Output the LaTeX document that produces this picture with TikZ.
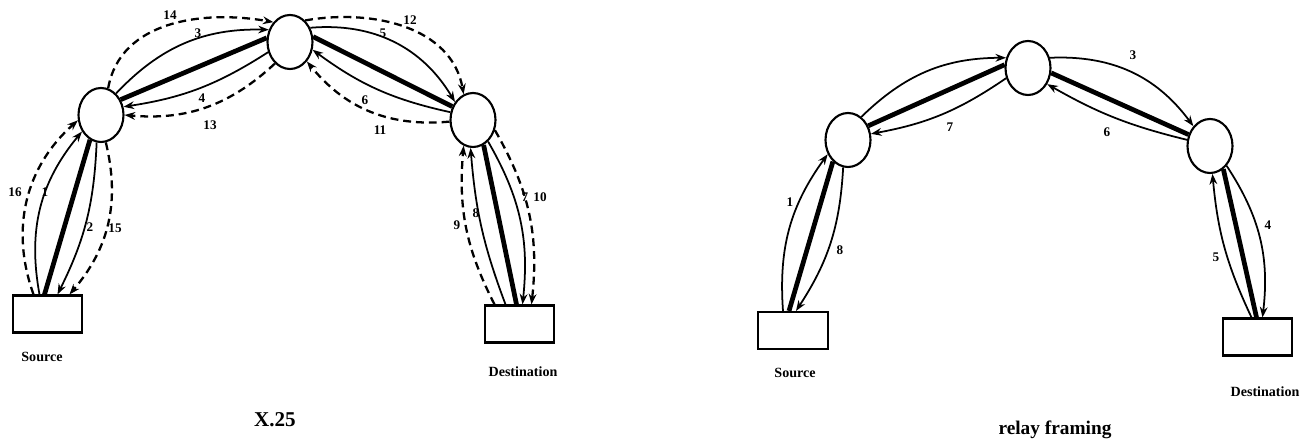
\documentclass[tikz,border=0pt]{standalone}
\usepackage{fontspec}
\setmainfont{Liberation Serif}
\usetikzlibrary{shapes.geometric,arrows.meta,calc}
\begin{document}
\begin{tikzpicture}[x=0.2mm,y=0.2mm,
  router/.style={ellipse,draw,line width=1.2pt,minimum width=9mm,minimum height=10.8mm,inner sep=0pt},
  host/.style={rectangle,draw,line width=1.2pt,minimum width=13.9mm,minimum height=7.4mm,inner sep=0pt},
  msg/.style={line width=1pt,-{Stealth[length=6pt,width=4.4pt]}},
  ctl/.style={msg,line width=1.3pt,dash pattern=on 4.5pt off 2.8pt},
  vc/.style={line width=2.7pt},
  num/.style={font=\bfseries\fontsize{7.5}{8}\selectfont,inner sep=0pt},
  captxt/.style={font=\bfseries\fontsize{8}{9}\selectfont,inner sep=0pt},
  titletxt/.style={font=\bfseries\fontsize{11}{13}\selectfont,inner sep=0pt}]
\useasboundingbox (0,0) rectangle (1312,448);

% ---------- X.25 ----------
\node[router] (A) at (101,333) {};
\node[router] (B) at (290,406) {};
\node[router] (C) at (473,328) {};
\node[host] (S1) at (47.5,134) {};
\node[host] (D1) at (519.5,124) {};
\node[captxt] (s1l) at (42,91) {Source};
\node[captxt] (d1l) at (523,76) {Destination};
\node[titletxt,font=\bfseries\fontsize{12}{14}\selectfont] (t1) at (275,28) {X.25};

\draw[ctl] ($(S1.north)+(-14,0)$) to[bend left=34] (A.193);
\draw[msg] ($(S1.north)+(-8,0)$) to[bend left=25] (A.221);
\draw[vc] (A.246) -- ($(S1.north)+(-3,0)$);
\draw[msg] (A.261) to[bend left=12] ($(S1.north)+(10,0)$);
\draw[ctl] (A.280) to[bend left=27] ($(S1.north)+(22,0)$);

\draw[ctl] (A.75) to[out=80,in=170] (B.130);
\draw[msg] (A.55) to[bend left=24] (B.150);
\draw[vc] (A.38) -- (B.170);
\draw[msg] (B.205) to[bend left=12] (A.20);
\draw[ctl] (B.235) to[bend left=24] (A.0);

\draw[ctl] (B.55) to[out=10,in=100] (C.110);
\draw[msg] (B.35) to[bend left=32] (C.135);
\draw[vc] (B.13) -- (C.147);
\draw[msg] (C.161) to[bend left=12] (B.341);
\draw[ctl] (C.184) to[bend left=28] (B.311);

\draw[ctl] ($(D1.north)+(-25,0)$) to[bend left=16] (C.250);
\draw[msg] ($(D1.north)+(-14,0)$) to[bend left=8] (C.265);
\draw[vc] (C.293) -- ($(D1.north)+(-3,0)$);
\draw[msg] (C.305) to[bend left=18] ($(D1.north)+(3,0)$);
\draw[ctl] (C.335) to[bend left=18] ($(D1.north)+(12,0)$);

\node[num] (l14) at (170,433) {14};
\node[num] (l3) at (198,415) {3};
\node[num] (l4) at (202,350) {4};
\node[num] (l13) at (210,323) {13};
\node[num] (l16) at (15,256) {16};
\node[num] (l1) at (45,256) {1};
\node[num] (l2) at (90,221) {2};
\node[num] (l15) at (115,220) {15};
\node[num] (l5) at (383,415) {5};
\node[num] (l12) at (410,428) {12};
\node[num] (l6) at (365,348) {6};
\node[num] (l11) at (380,318) {11};
\node[num] (l7) at (525,251) {7};
\node[num] (l10) at (540,251) {10};
\node[num] (l9) at (457,223) {9};
\node[num] (l8) at (476,235) {8};

% ---------- relay framing ----------
\node[router] (D) at (848,308) {};
\node[router] (E) at (1028,380) {};
\node[router] (F) at (1210,302) {};
\node[host] (S2) at (793,117.5) {};
\node[host] (D2) at (1257.5,111) {};
\node[captxt] (s2l) at (795,75) {Source};
\node[captxt] (d2l) at (1265,56) {Destination};
\node[titletxt] (t2) at (1055,18) {relay framing};

\draw[msg] ($(S2.north)+(-10,0)$) to[bend left=20] (D.215);
\draw[vc] (D.235) -- ($(S2.north)+(-4,0)$);
\draw[msg] (D.260) to[bend left=15] ($(S2.north)+(3,0)$);
\draw[msg] (D.60) to[bend left=22] (E.155);
\draw[vc] (D.35) -- (E.172);
\draw[msg] (E.205) to[bend left=12] (D.15);
\draw[msg] (E.25) to[bend left=28] (F.130);
\draw[vc] (E.348) -- (F.152);
\draw[msg] (F.165) to[bend left=8] (E.320);
\draw[msg] ($(D2.north)+(-6,0)$) to[bend left=10] (F.275);
\draw[vc] (F.300) -- ($(D2.north)+(-1,0)$);
\draw[msg] (F.310) to[bend left=20] ($(D2.north)+(5,0)$);

\node[num] (r1) at (790,246) {1};
\node[num] (r8) at (840,198) {8};
\node[num] (r7) at (950,321) {7};
\node[num] (r3) at (1133,393) {3};
\node[num] (r6) at (1107,316) {6};
\node[num] (r4) at (1268,223) {4};
\node[num] (r5) at (1216,191) {5};
\end{tikzpicture}
\end{document}
